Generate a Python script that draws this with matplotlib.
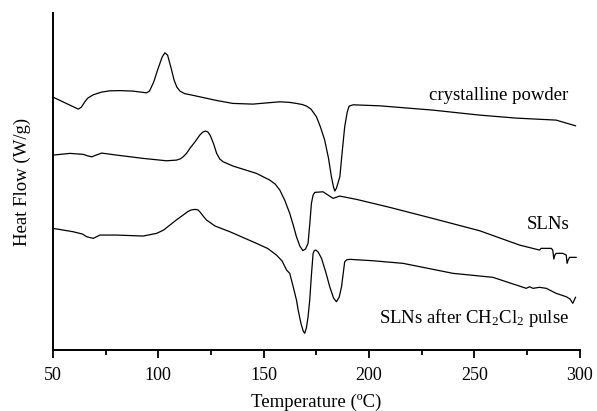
import matplotlib
matplotlib.use("Agg")
import matplotlib.pyplot as plt

# Temperature (°C) and heat flow (arbitrary units)
t_cryst = [50, 54, 58, 62, 63.5, 65, 66.5, 69.1, 73, 77, 82, 88, 94.4, 95.8, 97.8, 99.8, 101.8, 103.1,
           104.4, 106.2, 107.5, 108.8, 110.3, 112.5, 116, 119.7, 128, 135.4, 144.9, 152, 157.7, 162,
           165.6, 168.5, 170.4, 172.5, 175.1, 177, 179, 180.8, 182.2, 183.2, 183.8, 184.6, 186.2,
           187.4, 188.5, 189.7, 190.6, 192.5, 205.1, 230.3, 252.6, 270, 288.9, 298.1]
hf_cryst = [253, 249, 245, 241, 243, 248, 252, 255.3, 258, 259.3, 259.5, 259, 257.3, 259, 268, 281, 293,
            297.3, 295, 281, 270, 263, 259, 256.5, 255, 253.3, 249.5, 246.7, 246, 247.3, 248.3, 247.8,
            246.7, 245.5, 244, 241, 233.3, 223, 210, 192, 173.3, 163, 159, 162, 173.3, 200, 223.3, 238,
            244, 245.3, 244.3, 240, 235, 232, 230, 224.3]

t_sln = [50, 58.1, 64.4, 66.5, 68.4, 70.5, 73.1, 80.2, 92.8, 103.9, 108.7, 110.5, 111.8, 113.5, 115.0,
         117.5, 119.7, 121, 122.3, 123.5, 124.7, 126.3, 127.7, 129.2, 130.8, 135.5, 146.6, 152.9, 155.5,
         157.7, 160, 162.4, 164.2, 165.6, 167.2, 168.6, 169.9, 171.1, 172.0, 172.7, 173.5, 174.3, 178.2,
         183.0, 186.1, 194.1, 209.9, 232.0, 252.6, 271.5, 281.0, 281.8, 286.6, 287.3, 287.8, 288.3,
         288.9, 292.1, 293.7, 294.1, 294.6, 295.3, 298.4]
hf_sln = [195, 196.7, 195.7, 194.2, 193.3, 195, 197, 195, 191.7, 189.3, 190, 191.3, 193.3, 197, 201.7,
          208.5, 215, 217.8, 219, 218.2, 214.5, 206, 196.7, 191, 188.3, 184, 176.7, 170, 166, 160, 150,
          136.7, 124, 113.3, 104, 99.5, 101, 106.7, 128, 146.7, 155, 157.7, 158.3, 151.7, 154, 150.7,
          142.7, 130.7, 119.3, 105, 100, 101.7, 101.7, 100, 91, 95, 96.7, 96.7, 95, 86.7, 90, 92.7, 92.7]

t_ch2cl2 = [50, 59.6, 64, 66.0, 69.1, 72.3, 80.2, 92.8, 99.2, 102.5, 105.5, 108.8, 111.8, 114, 115.5,
            117.4, 118.8, 119.7, 121.3, 122.9, 127, 134.0, 146.6, 152, 156.1, 158.8, 160.9, 162.4,
            164.2, 165.6, 166.4, 167.8, 168.8, 169.5, 170.3, 171.1, 171.9, 172.7, 173.5, 174.1, 174.8,
            175.9, 177.5, 179.5, 181.4, 183.2, 184.6, 185.9, 187.0, 188.0, 188.5, 189.5, 190.9, 201.9,
            216.2, 239.9, 258.9, 274.7, 276.3, 277.9, 281.0, 284.2, 288.9, 293.7, 295.5, 296.8, 298.1]
hf_ch2cl2 = [121.7, 118.3, 116, 113.3, 111.7, 115, 115, 114, 116.7, 120, 125, 130.5, 135, 138.5, 140,
             140.7, 140.2, 138.3, 134, 130, 124, 118.3, 106.7, 101.5, 95, 89, 80, 76.7, 62, 50, 40, 26,
             19, 16.7, 22, 33, 50, 75, 96.7, 99.5, 100, 98, 91.7, 78, 63.3, 52, 48.3, 53, 63.3, 80, 88.3,
             90.3, 90.7, 89.3, 86.7, 76.7, 72.7, 61.7, 63.3, 61.7, 62.7, 61.7, 56.7, 53.3, 51, 46.7, 52.7]

labels = ["crystalline powder", "SLNs", "SLNs after CH$_2$Cl$_2$ pulse"]
xticks = [50, 100, 150, 200, 250, 300]

plt.rcParams['font.family'] = ['Liberation Serif', 'DejaVu Serif']
plt.rcParams['mathtext.fontset'] = 'custom'
plt.rcParams['mathtext.rm'] = 'Liberation Serif'
plt.rcParams['mathtext.it'] = 'Liberation Serif:italic'

fig = plt.figure(figsize=(5.97, 4.11), dpi=100)
ax = fig.add_axes([0.0888, 0.1484, 0.8819, 0.8196])

for t, h in [(t_cryst, hf_cryst), (t_sln, hf_sln), (t_ch2cl2, hf_ch2cl2)]:
    ax.plot(t, h, color='black', lw=0.9, solid_joinstyle='round')

ax.set_xlim(50, 300)
ax.set_ylim(0, 337)
ax.set_xticks(xticks)
ax.set_xticks([75, 125, 175, 225, 275], minor=True)
ax.set_yticks([])
ax.tick_params(axis='x', which='major', direction='out', length=6, width=1.3, labelsize=13, pad=6)
ax.tick_params(axis='x', which='minor', direction='out', length=3.5, width=1.3)
for s in ['top', 'right']:
    ax.spines[s].set_visible(False)
for s in ['left', 'bottom']:
    ax.spines[s].set_linewidth(1.4)

ax.text(228.4, 250, labels[0], fontsize=13.5, ha='left', va='baseline')
ax.text(274.9, 121, labels[1], fontsize=13.5, ha='left', va='baseline')
ax.text(204.7, 27, labels[2], fontsize=13.5, ha='left', va='baseline')

ax.set_xlabel("Temperature (ºC)", fontsize=13.5, labelpad=7)
ax.set_ylabel("Heat Flow (W/g)", fontsize=13.5, labelpad=16)

fig.savefig("out.png", dpi=100)
